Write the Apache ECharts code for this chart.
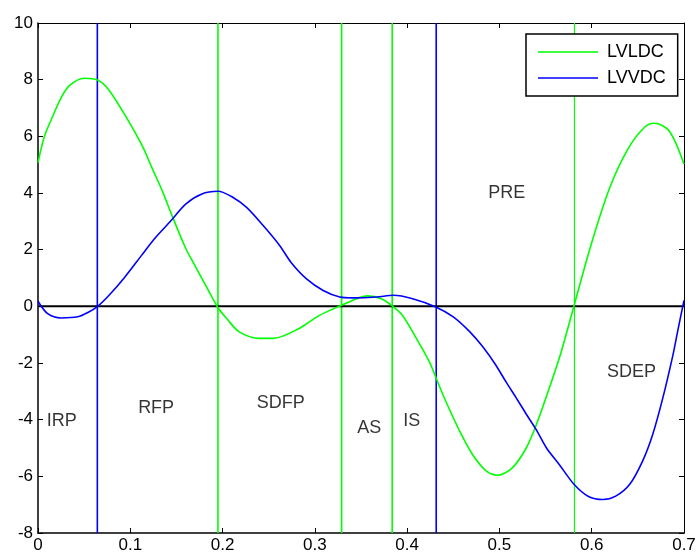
<!DOCTYPE html>
<html>
<head>
<meta charset="utf-8">
<script src="https://cdn.jsdelivr.net/npm/echarts@6/dist/echarts.min.js"></script>
<style>html,body{margin:0;padding:0;background:#fff}#c{width:699px;height:554px}</style>
</head>
<body>
<div id="c"></div>
<script>
var xTicks = [0, 0.1, 0.2, 0.3, 0.4, 0.5, 0.6, 0.7];
var yTicks = [-8, -6, -4, -2, 0, 2, 4, 6, 8, 10];

var lvldcX = [0, .007, .016, .025, .034, .050, .065, .077, .097, .113, .124, .135, .146, .160, .169, .182, .195, .205, .218, .240, .255, .283, .305, .329, .341, .357, .372, .384, .395, .410, .424, .433, .442, .457, .471, .486, .498, .514, .529, .540, .554, .567, .581, .599, .619, .639, .657, .668, .684, .700];
var lvldcY = [5.07, 6.0, 6.71, 7.36, 7.79, 8.05, 7.98, 7.63, 6.6, 5.66, 4.85, 4.05, 3.14, 2.05, 1.50, 0.72, -0.05, -0.45, -0.90, -1.13, -1.13, -0.78, -0.32, 0.04, 0.21, 0.37, 0.27, 0.01, -0.32, -1.13, -1.95, -2.66, -3.36, -4.41, -5.24, -5.82, -5.96, -5.70, -5.0, -4.18, -2.89, -1.60, 0.04, 2.14, 4.14, 5.54, 6.31, 6.46, 6.19, 5.02];

var lvvdcX = [0, .0105, .025, .043, .054, .065, .077, .094, .112, .126, .144, .160, .177, .195, .211, .226, .244, .262, .274, .291, .309, .327, .341, .367, .385, .406, .431, .450, .468, .482, .496, .507, .518, .529, .540, .551, .565, .581, .596, .612, .626, .641, .655, .666, .677, .688, .693, .700];
var lvvdcY = [0.18, -0.26, -0.41, -0.37, -0.22, 0.01, 0.39, 1.03, 1.79, 2.38, 3.02, 3.61, 3.96, 4.06, 3.85, 3.49, 2.85, 2.14, 1.56, 0.97, 0.56, 0.33, 0.30, 0.33, 0.39, 0.27, -0.02, -0.37, -0.90, -1.43, -2.07, -2.66, -3.22, -3.80, -4.36, -5.0, -5.59, -6.29, -6.70, -6.82, -6.70, -6.29, -5.47, -4.53, -3.24, -1.72, -0.90, 0.21];

var phaseX = [0.0643, 0.195, 0.329, 0.3838, 0.4315, 0.5813];
var phaseColor = ['#0000ff', '#00ff00', '#00ff00', '#00ff00', '#0000ff', '#00ff00'];
var phaseWidth = [1.6, 1.6, 1.6, 1.6, 1.6, 1.2];

var phaseNames = ['IRP', 'RFP', 'SDFP', 'AS', 'IS', 'PRE', 'SDEP'];
var phaseLabelX = [0.0257, 0.128, 0.263, 0.359, 0.405, 0.508, 0.643];
var phaseLabelY = [-4.06, -3.60, -3.42, -4.30, -4.04, 3.99, -2.31];

var yMin = -8, yMax = 10, xMin = 0, xMax = 0.7;

function zip(a, b) { return a.map(function (v, i) { return [v, b[i]]; }); }

var FONT = 'Liberation Sans, Arial, sans-serif';
var chart = echarts.init(document.getElementById('c'), null, {renderer: 'canvas'});

var series = [];
phaseX.forEach(function (x, i) {
  series.push({
    name: 'phase' + i, type: 'line', data: [[x, yMin], [x, yMax]],
    showSymbol: false, silent: true, color: phaseColor[i],
    lineStyle: {color: phaseColor[i], width: phaseWidth[i]}, z: 2
  });
});
series.push({
  name: 'zero', type: 'line', data: [[xMin, 0], [xMax, 0]],
  showSymbol: false, silent: true, color: '#000',
  lineStyle: {color: '#000', width: 2}, z: 2
});
series.push({
  name: 'LVLDC', type: 'line', data: zip(lvldcX, lvldcY),
  showSymbol: false, smooth: 0.3, color: '#00ff00',
  lineStyle: {color: '#00ff00', width: 1.6}, z: 3
});
series.push({
  name: 'LVVDC', type: 'line', data: zip(lvvdcX, lvvdcY),
  showSymbol: false, smooth: 0.3, color: '#0000ff',
  lineStyle: {color: '#0000ff', width: 1.6}, z: 3
});
series.push({
  name: 'phases', type: 'scatter', symbolSize: 0,
  data: phaseNames.map(function (n, i) { return {name: n, value: [phaseLabelX[i], phaseLabelY[i]]}; }),
  label: {show: true, position: 'inside', formatter: '{b}', color: '#000', fontFamily: FONT, fontSize: 18},
  silent: true, z: 4
});

var option = {
  animation: false,
  backgroundColor: '#fff',
  grid: {left: 38, right: 15, top: 23, bottom: 19, containLabel: false},
  legend: {
    data: ['LVLDC', 'LVVDC'],
    orient: 'vertical',
    left: 526, top: 34,
    icon: 'rect',
    itemWidth: 60, itemHeight: 1.5,
    itemGap: 8,
    padding: [9, 12, 9, 12],
    borderColor: '#000', borderWidth: 1.5,
    backgroundColor: '#fff',
    textStyle: {fontFamily: FONT, fontSize: 18, color: '#000', padding: [0, 0, 0, 4]}
  },
  xAxis: [{
    type: 'value', min: xMin, max: xMax, interval: 0.1, position: 'bottom',
    axisLine: {onZero: false, lineStyle: {color: '#000', width: 1.5}},
    axisTick: {inside: true, length: 5, lineStyle: {color: '#000'}},
    splitLine: {show: false},
    axisLabel: {color: '#000', fontFamily: FONT, fontSize: 17, margin: 4,
      formatter: function (v) { return String(parseFloat(v.toFixed(1))); }}
  }, {
    type: 'value', min: xMin, max: xMax, interval: 0.1, position: 'top',
    axisLine: {onZero: false, lineStyle: {color: '#000', width: 1}},
    axisTick: {inside: true, length: 5, lineStyle: {color: '#000'}},
    splitLine: {show: false}, axisLabel: {show: false}
  }],
  yAxis: [{
    type: 'value', min: yMin, max: yMax, interval: 2, position: 'left',
    axisLine: {show: true, onZero: false, lineStyle: {color: '#000', width: 1.5}},
    axisTick: {show: true, inside: true, length: 5, lineStyle: {color: '#000'}},
    splitLine: {show: false},
    axisLabel: {color: '#000', fontFamily: FONT, fontSize: 17, margin: 5}
  }, {
    type: 'value', min: yMin, max: yMax, interval: 2, position: 'right',
    axisLine: {show: true, onZero: false, lineStyle: {color: '#000', width: 1}},
    axisTick: {show: true, inside: true, length: 5, lineStyle: {color: '#000'}},
    splitLine: {show: false}, axisLabel: {show: false}
  }],
  series: series
};
chart.setOption(option);
</script>
</body>
</html>
